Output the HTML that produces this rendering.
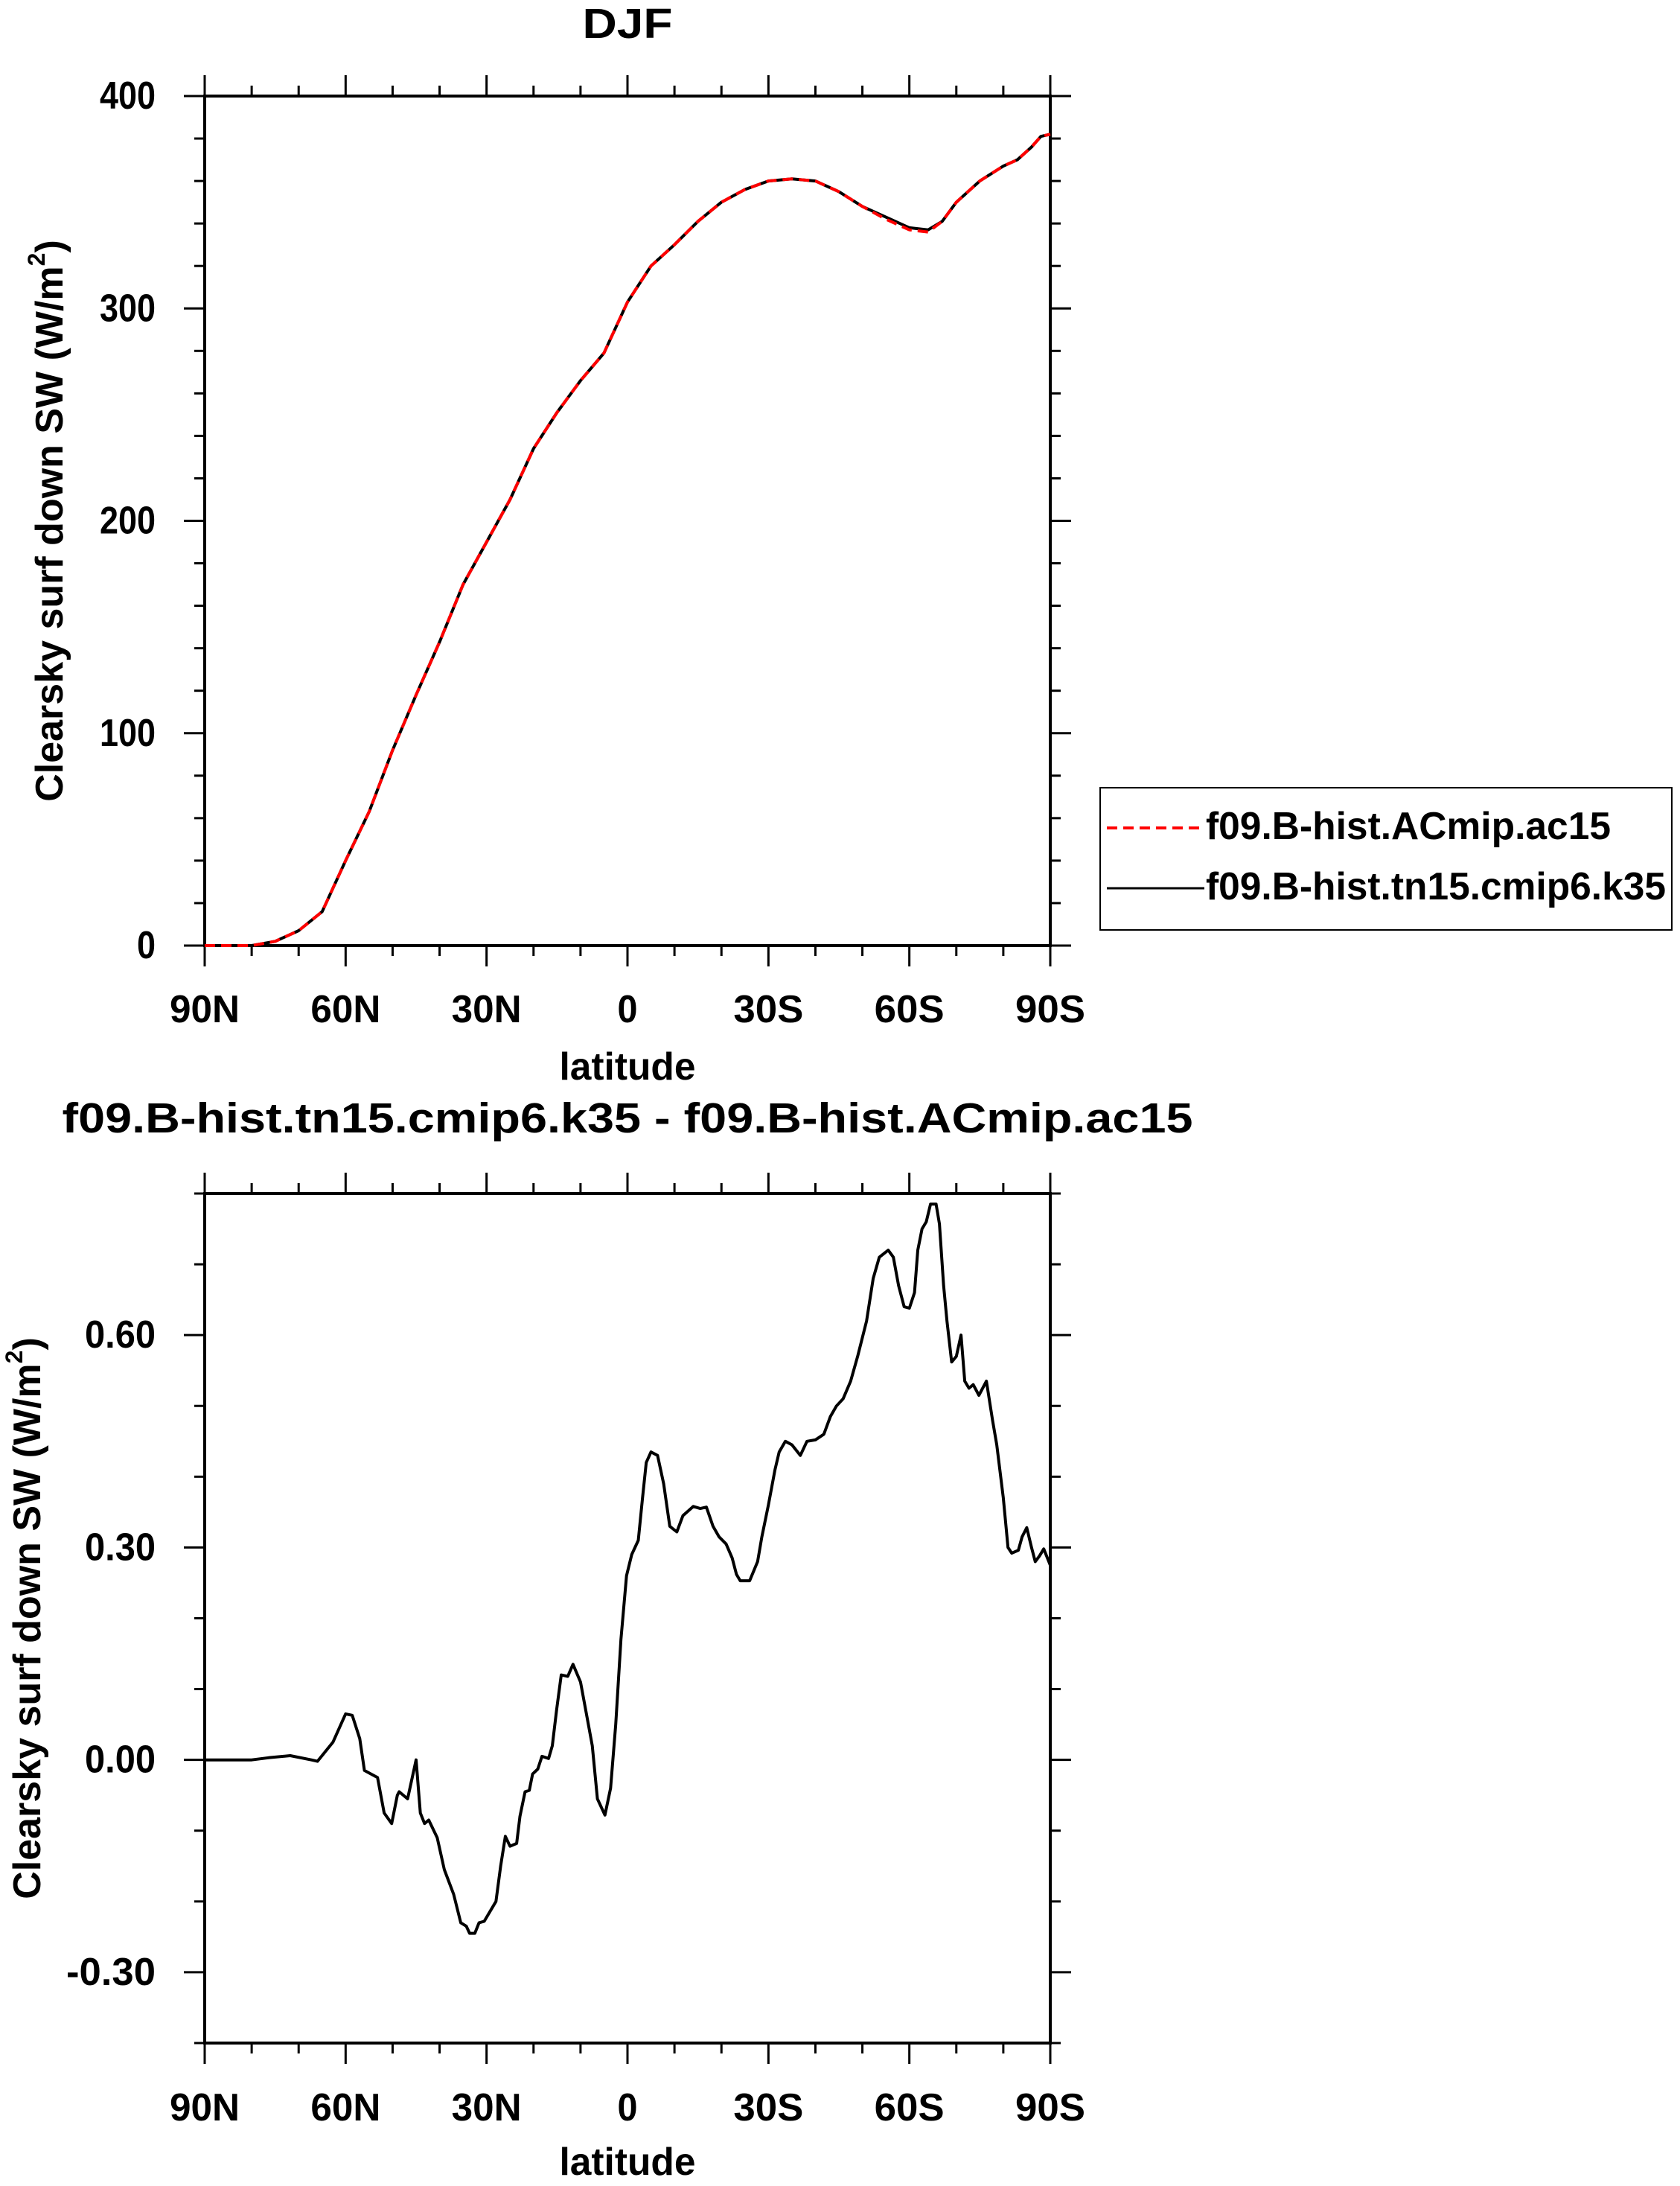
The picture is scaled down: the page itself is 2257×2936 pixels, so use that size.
<!DOCTYPE html>
<html><head><meta charset="utf-8"><style>html,body{margin:0;padding:0;background:#fff}svg{display:block}text{font-family:"Liberation Sans",sans-serif;font-weight:bold;fill:#000}</style></head>
<body>
<svg id="chart" width="2257" height="2936" viewBox="0 0 2257 2936" xmlns="http://www.w3.org/2000/svg"></svg>
<script>
const latTicks=[90,60,30,0,-30,-60,-90];
const latTickLabels=["90N","60N","30N","0","30S","60S","90S"];
const topYTicks=[0,100,200,300,400];
const topYLabels=["0","100","200","300","400"];
const botYTicks=[-0.3,0,0.3,0.6];
const botYLabels=["-0.30","0.00","0.30","0.60"];
const topLats=[90,80,75,70,65,60,55,50,45,40,35,30,25,20,15,10,5,0,-5,-10,-15,-20,-25,-30,-35,-40,-45,-50,-55,-60,-64,-67,-70,-75,-80,-83,-86,-88,-90];
const seriesK35=[0,0,2,7,16,40,63,92,118,143,170,190,210,234,251,266,279,303,320,330,341,350,356,360,361,360,355,348,343,338,337,341,350,360,367,370,376,381,382];
const seriesAC15=[0,0,2,7,16,40,63,92,118,143,170,190,210,234,251,266,279,303,320,330,341,350,356,360,361,360,355,348,342,337,336,341,350,360,367,370,376,381,382];
const diffLats=[90,80,76.4,71.8,67.3,66,62.7,60,58.6,57,56,53.2,51.8,50.2,49,48.6,46.8,45,44.1,43.2,42.3,40.5,39,37,35.5,34.3,33.6,32.5,31.6,30.5,28,27,26,25,23.6,22.9,21.8,20.9,20.2,19.1,18.2,16.8,16,15.1,14.1,12.7,11.6,10,8.6,7.5,6.4,4.8,3.6,2.5,1.4,0.2,-0.9,-2.3,-3.2,-4,-5,-6.4,-7.7,-9,-10.5,-11.8,-13,-14,-15.5,-16.8,-18.2,-19.5,-21,-22.3,-23.2,-24,-26,-27.7,-28.6,-30,-31.4,-32.3,-33.6,-35,-36.8,-38.2,-40,-41.8,-43.2,-44.5,-45.9,-47.5,-49,-50.9,-52.3,-53.6,-55.5,-56.6,-57.7,-58.9,-60,-61.1,-61.8,-62.7,-63.6,-64.5,-65.7,-66.4,-67.3,-68,-69,-70,-71,-71.8,-72.7,-73.6,-74.8,-76.4,-77.7,-78.6,-80,-81,-81.8,-83.2,-84,-85,-86,-86.8,-87.7,-88.6,-90];
const diffVals=[0,0,0.003,0.006,0,-0.002,0.025,0.065,0.063,0.03,-0.015,-0.025,-0.075,-0.09,-0.05,-0.045,-0.055,0,-0.075,-0.09,-0.085,-0.11,-0.155,-0.19,-0.23,-0.235,-0.245,-0.245,-0.23,-0.228,-0.2,-0.15,-0.108,-0.122,-0.118,-0.08,-0.045,-0.043,-0.02,-0.013,0.005,0.002,0.02,0.07,0.12,0.118,0.135,0.11,0.06,0.02,-0.055,-0.078,-0.04,0.05,0.17,0.26,0.29,0.31,0.37,0.42,0.435,0.43,0.39,0.33,0.322,0.345,0.352,0.358,0.355,0.357,0.33,0.315,0.305,0.285,0.262,0.253,0.253,0.28,0.315,0.36,0.41,0.435,0.45,0.445,0.43,0.45,0.452,0.46,0.485,0.5,0.51,0.535,0.57,0.62,0.68,0.71,0.72,0.71,0.67,0.64,0.638,0.66,0.72,0.75,0.76,0.785,0.785,0.757,0.67,0.62,0.562,0.57,0.6,0.535,0.525,0.53,0.515,0.535,0.48,0.445,0.37,0.3,0.292,0.296,0.315,0.328,0.3,0.28,0.288,0.298,0.275,0.28,0.255];

const NS="http://www.w3.org/2000/svg";
const svg=document.getElementById('chart');
function mk(tag,attrs,parent){const e=document.createElementNS(NS,tag);for(const k in attrs)e.setAttribute(k,attrs[k]);(parent||svg).appendChild(e);return e;}
function txt(s,x,y,size,len,anchor,parent){const t=mk('text',{x:x,y:y,'font-size':size,'text-anchor':anchor||'middle','dominant-baseline':'central',textLength:len,lengthAdjust:'spacingAndGlyphs'},parent);t.textContent=s;return t;}
const X0=275,X1=1411;
function xs(lat){return X0+(90-lat)/180*(X1-X0);}

function panel(name,Y0,Y1,vmin,vmax,yt,yl,minorStep,ytitleX,xlabY,latY){
  const g=mk('g',{});
  
  
  const ys=v=>Y1-(v-vmin)/(vmax-vmin)*(Y1-Y0);
  const frame=mk('rect',{x:X0,y:Y0,width:X1-X0,height:Y1-Y0,fill:'none',stroke:'#000','stroke-width':4},g);
  
  
  for(let lat=90;lat>=-90;lat-=10){const maj=lat%30===0;const L=maj?28:14;const x=xs(lat);
    mk('line',{x1:x,x2:x,y1:Y0,y2:Y0-L,stroke:'#000','stroke-width':3},g);
    mk('line',{x1:x,x2:x,y1:Y1,y2:Y1+L,stroke:'#000','stroke-width':3},g);}
  const n=Math.round((vmax-vmin)/minorStep);
  for(let i=0;i<=n;i++){const v=vmin+i*minorStep;const maj=yt.some(t=>Math.abs(t-v)<1e-6);const L=maj?28:14;const y=ys(v);
    mk('line',{x1:X0,x2:X0-L,y1:y,y2:y,stroke:'#000','stroke-width':3},g);
    mk('line',{x1:X1,x2:X1+L,y1:y,y2:y,stroke:'#000','stroke-width':3},g);}
  yt.forEach((v,i)=>{const t=txt(yl[i],209,ys(v),52,yl[i].length*25+(yl[i].indexOf('.')>=0?-5:0),'end',g);
    
    });
  latTicks.forEach((lat,i)=>{const s=latTickLabels[i];const t=txt(s,xs(lat),xlabY,52,s.length===1?27:94,'middle',g);
    
    });
  const xt=txt('latitude',843,latY,52,183,'middle',g);
  
  
  const yT=mk('text',{x:ytitleX,y:(Y0+Y1)/2,'font-size':52,'text-anchor':'middle','dominant-baseline':'central',transform:'rotate(-90 '+ytitleX+' '+(Y0+Y1)/2+')'},g);
  
  
  yT.innerHTML='Clearsky surf down SW (W/m<tspan font-size="32" dy="-18">2</tspan><tspan dy="18">)</tspan>';
  return {g,ys};
}

const P1=panel('top-panel',129,1270,0,400,topYTicks,topYLabels,20,67,1356,1433);
function pathD(lats,vals,ys){return lats.map((l,i)=>(i?'L':'M')+xs(l).toFixed(1)+','+ys(vals[i]).toFixed(1)).join(' ');}
const lineK=mk('path',{d:pathD(topLats,seriesK35,P1.ys),fill:'none',stroke:'#000','stroke-width':4,'stroke-linejoin':'round'},P1.g);


const lineA=mk('path',{d:pathD(topLats,seriesAC15,P1.ys),fill:'none',stroke:'#ff0000','stroke-width':4,'stroke-dasharray':'14,8'},P1.g);


const t1=txt('DJF',843,32,57,121,'middle');



const lg=mk('g',{});


mk('rect',{x:1478,y:1058,width:768,height:191,fill:'#fff',stroke:'#000','stroke-width':2},lg);
const le1=mk('g',{},lg);


mk('line',{x1:1487,x2:1618,y1:1112,y2:1112,stroke:'#ff0000','stroke-width':4,'stroke-dasharray':'14,8'},le1);
txt('f09.B-hist.ACmip.ac15',1620,1110,52,544,'start',le1);
const le2=mk('g',{},lg);


mk('line',{x1:1487,x2:1618,y1:1193,y2:1193,stroke:'#000','stroke-width':3},le2);
txt('f09.B-hist.tn15.cmip6.k35',1620,1191,52,618,'start',le2);

const P2=panel('bottom-panel',1603,2744,-0.4,0.8,botYTicks,botYLabels,0.1,37,2831,2904);
const lineD=mk('path',{d:pathD(diffLats,diffVals,P2.ys),fill:'none',stroke:'#000','stroke-width':4,'stroke-linejoin':'round'},P2.g);


const t2=txt('f09.B-hist.tn15.cmip6.k35 - f09.B-hist.ACmip.ac15',843,1502,57,1519,'middle');


</script>
</body></html>
